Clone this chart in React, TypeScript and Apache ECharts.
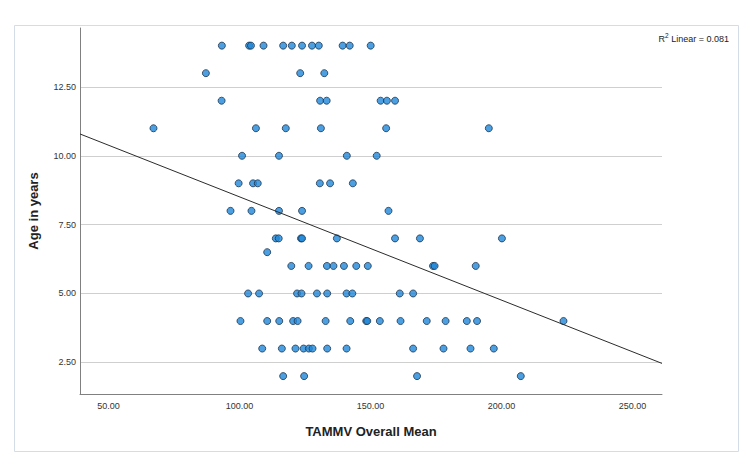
import React, { useEffect, useRef } from "react";
import * as echarts from "echarts";

// TAMMV overall mean scores, grouped by age in years
const tammvAge14 = [93.3, 103.7, 104.4, 109.2, 116.7, 120.0, 123.9, 127.7, 130.3, 139.4, 142.1, 150.1];
const tammvAge13 = [87.2, 123.2, 132.4];
const tammvAge12 = [93.2, 130.8, 133.3, 153.9, 156.3, 159.4];
const tammvAge11 = [67.2, 106.3, 117.7, 131.1, 156.0, 195.2];
const tammvAge10 = [101.0, 115.1, 141.0, 152.4];
const tammvAge9 = [99.7, 105.2, 107.0, 130.7, 134.6, 143.3];
const tammvAge8 = [96.6, 104.6, 115.1, 123.9, 156.9];
const tammvAge7 = [113.9, 115.0, 123.5, 123.9, 137.2, 159.4, 168.9, 200.2];
const tammvAge6_5 = [110.6];
const tammvAge6 = [119.8, 126.4, 133.4, 135.9, 139.9, 144.6, 149.0, 173.9, 174.5, 190.2];
const tammvAge5 = [103.3, 107.5, 122.0, 123.7, 129.6, 133.5, 140.9, 143.1, 161.2, 166.3];
const tammvAge4 = [100.4, 110.6, 115.2, 120.5, 122.2, 132.9, 142.3, 148.4, 148.8, 153.6, 161.5, 171.5, 178.7, 186.8, 190.7, 223.7];
const tammvAge3 = [108.7, 116.2, 121.4, 124.5, 126.5, 127.9, 133.5, 140.9, 166.3, 177.9, 188.2, 197.1];
const tammvAge2 = [116.7, 124.7, 167.8, 207.4];

const ageGroups: [number, number[]][] = [
  [14, tammvAge14],
  [13, tammvAge13],
  [12, tammvAge12],
  [11, tammvAge11],
  [10, tammvAge10],
  [9, tammvAge9],
  [8, tammvAge8],
  [7, tammvAge7],
  [6.5, tammvAge6_5],
  [6, tammvAge6],
  [5, tammvAge5],
  [4, tammvAge4],
  [3, tammvAge3],
  [2, tammvAge2],
];

// Linear fit of age on TAMMV overall mean
const fitIntercept = 12.26;
const fitSlope = -0.0375;
const rSquared = "0.081";

// Axis extents
const xMin = 39.15;
const xMax = 261.3;
const yMin = 1.35;
const yMax = 14.64;

const FONT = "'Liberation Sans', Arial, Helvetica, sans-serif";

export default function App() {
  const ref = useRef<HTMLDivElement>(null);

  useEffect(() => {
    if (!ref.current) return;
    const chart = echarts.init(ref.current, null, { renderer: "svg" });

    const points: number[][] = [];
    ageGroups.forEach(([age, xs]) => xs.forEach((x) => points.push([x, age])));

    const fitLine = [
      [xMin, fitIntercept + fitSlope * xMin],
      [xMax, fitIntercept + fitSlope * xMax],
    ];

    chart.setOption({
      animation: false,
      backgroundColor: "#ffffff",
      textStyle: { fontFamily: FONT },
      title: {
        text: `{r|R}{s|2}{r| Linear = ${rSquared}}`,
        right: 16,
        top: 27,
        textStyle: {
          fontWeight: "normal",
          fontFamily: FONT,
          fontSize: 9,
          color: "#222",
          rich: {
            r: { fontFamily: FONT, fontSize: 9, fontWeight: "normal", color: "#222", verticalAlign: "bottom" },
            s: {
              fontFamily: FONT,
              fontSize: 6.5,
              fontWeight: "normal",
              color: "#222",
              verticalAlign: "top",
              padding: [0, 0, 4, 0],
            },
          },
        },
      },
      graphic: [
        {
          type: "rect",
          left: 12,
          top: 23,
          shape: { width: 724, height: 426 },
          style: { fill: "none", stroke: "#d4dce8", lineWidth: 1 },
          silent: true,
          z: -1,
        },
      ],
      grid: { left: 80, top: 28, right: 88, bottom: 60, containLabel: false },
      xAxis: {
        type: "value",
        min: xMin,
        max: xMax,
        minInterval: 50,
        maxInterval: 50,
        name: "TAMMV Overall Mean",
        nameLocation: "middle",
        nameGap: 31,
        nameTextStyle: { fontFamily: FONT, fontSize: 13, fontWeight: "bold", color: "#222" },
        axisLine: { show: true, onZero: false, lineStyle: { color: "#808080", width: 1 } },
        axisTick: { show: false },
        axisLabel: {
          formatter: (v: number) => v.toFixed(2),
          showMinLabel: false,
          showMaxLabel: false,
          fontFamily: FONT,
          fontSize: 9,
          color: "#333",
          margin: 7,
        },
        splitLine: { show: false },
      },
      yAxis: {
        type: "value",
        min: yMin,
        max: yMax,
        minInterval: 2.5,
        maxInterval: 2.5,
        name: "Age in years",
        nameLocation: "middle",
        nameGap: 40,
        nameTextStyle: { fontFamily: FONT, fontSize: 13, fontWeight: "bold", color: "#222" },
        axisLine: { show: true, onZero: false, lineStyle: { color: "#808080", width: 1 } },
        axisTick: { show: false },
        axisLabel: {
          formatter: (v: number) => v.toFixed(2),
          showMinLabel: false,
          showMaxLabel: false,
          fontFamily: FONT,
          fontSize: 9,
          color: "#333",
          margin: 4,
        },
        splitLine: {
          show: true,
          showMinLine: false,
          showMaxLine: false,
          lineStyle: { color: "#cfcfcf", width: 1.2 },
        },
      },
      series: [
        {
          type: "scatter",
          data: points,
          symbol: "circle",
          symbolSize: 7,
          itemStyle: { color: "#1f88d9", borderColor: "#1b3550", borderWidth: 1 },
          z: 2,
        },
        {
          type: "line",
          data: fitLine,
          symbol: "none",
          lineStyle: { color: "#2b2b2b", width: 1 },
          z: 3,
        },
      ],
    });

    return () => chart.dispose();
  }, []);

  return <div ref={ref} style={{ width: 750, height: 454, position: "absolute", left: 0, top: 0 }} />;
}
